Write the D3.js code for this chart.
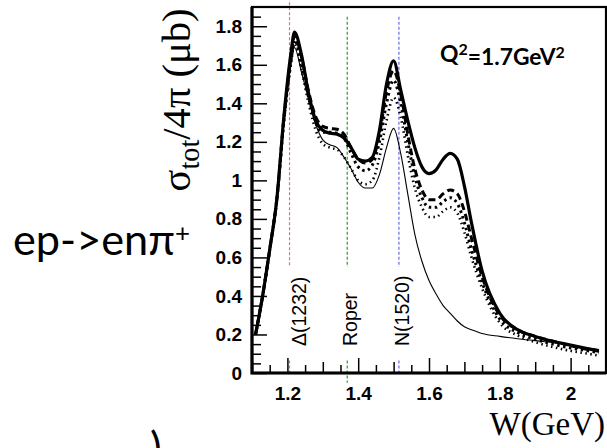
<!DOCTYPE html>
<meta charset="utf-8">
<style>
    body { margin: 0; background: #fff; }
    .axis text {
        font-family: "Liberation Sans", Arial, sans-serif;
        font-weight: bold;
        font-size: 19px;
        fill: #000;
    }
    .axis path { display: none; }
    .axis line { stroke: #000; stroke-width: 1.5px; }
    .curve { fill: none; stroke: #000; }
    .marker-label {
        font-family: "Liberation Sans", Arial, sans-serif;
        font-size: 19.5px;
    }
    .serif { font-family: "Liberation Serif", "Times New Roman", serif; }
    .calibri { font-family: Lato, "Open Sans", sans-serif; }
</style>
<svg id="f" width="607" height="448"></svg>
<script src="https://cdn.jsdelivr.net/npm/d3@7/dist/d3.min.js"></script>
<script>
    // W (GeV) grid the curves were read on
    var W = [1.11, 1.13, 1.15, 1.17, 1.19, 1.21, 1.22, 1.24, 1.26, 1.28, 1.30, 1.32, 1.34, 1.36, 1.38, 1.40,
        1.42, 1.44, 1.46, 1.48, 1.50, 1.52, 1.54, 1.56, 1.58, 1.60, 1.62, 1.64, 1.66, 1.68, 1.70, 1.72,
        1.75, 1.80, 1.85, 1.90, 1.95, 2.00, 2.05, 2.08];

    // sigma_tot/4pi (mub) for each model curve
    var solid = [0.20, 0.40, 0.64, 0.90, 1.33, 1.66, 1.77, 1.65, 1.45, 1.31, 1.26, 1.245, 1.24, 1.22, 1.17, 1.11,
        1.10, 1.12, 1.26, 1.50, 1.62, 1.47, 1.31, 1.17, 1.07, 1.035, 1.055, 1.11, 1.14, 1.11, 0.97, 0.78,
        0.53, 0.31, 0.225, 0.19, 0.165, 0.145, 0.125, 0.117];
    var dashed = [0.20, 0.40, 0.64, 0.90, 1.32, 1.64, 1.75, 1.64, 1.46, 1.33, 1.28, 1.27, 1.265, 1.24, 1.17, 1.11,
        1.09, 1.11, 1.24, 1.46, 1.57, 1.45, 1.24, 1.06, 0.95, 0.90, 0.90, 0.93, 0.95, 0.93, 0.84, 0.70,
        0.50, 0.30, 0.225, 0.19, 0.165, 0.142, 0.122, 0.113];
    var dotted = [0.20, 0.40, 0.64, 0.90, 1.31, 1.62, 1.73, 1.60, 1.43, 1.30, 1.25, 1.25, 1.245, 1.22, 1.14, 1.07,
        1.05, 1.08, 1.20, 1.40, 1.52, 1.40, 1.20, 1.02, 0.91, 0.86, 0.86, 0.89, 0.91, 0.88, 0.78, 0.64,
        0.47, 0.28, 0.21, 0.175, 0.15, 0.13, 0.115, 0.105];
    var dottedLight = [0.20, 0.40, 0.64, 0.90, 1.30, 1.60, 1.71, 1.57, 1.40, 1.26, 1.19, 1.17, 1.16, 1.12, 1.06, 1.00,
        0.98, 1.00, 1.12, 1.31, 1.43, 1.33, 1.13, 0.96, 0.86, 0.81, 0.81, 0.84, 0.86, 0.83, 0.73, 0.60,
        0.44, 0.26, 0.195, 0.16, 0.135, 0.115, 0.10, 0.09];
    var thin = [0.20, 0.40, 0.64, 0.90, 1.30, 1.60, 1.69, 1.56, 1.42, 1.29, 1.21, 1.185, 1.17, 1.12, 1.06, 0.99,
        0.96, 0.96, 1.03, 1.17, 1.27, 1.14, 0.93, 0.72, 0.58, 0.48, 0.41, 0.35, 0.31, 0.27, 0.24, 0.225,
        0.205, 0.19, 0.178, 0.168, 0.158, 0.145, 0.13, 0.12];

    var xTicks = [1.2, 1.4, 1.6, 1.8, 2];
    var yTicks = [0, 0.2, 0.4, 0.6, 0.8, 1, 1.2, 1.4, 1.6, 1.8];

    // resonance markers: line position and label position (W)
    var markerNames = ["Δ(1232)", "Roper", "N(1520)"];
    var markerW = [1.206, 1.369, 1.515];
    var markerLabelW = [1.232, 1.378, 1.524];
    var markerColors = ["#e07070", "#2e9a2e", "#6a6ae8"];

    var svg = d3.select("#f");

    var x = d3.scaleLinear().domain([1.1, 2.1]).range([252, 606]),
        y = d3.scaleLinear().domain([0, 1.9]).range([373, 7]);

    // minor ticks every 0.05
    var xMinor = d3.range(1.15, 2.1, 0.05).filter(function (v) { return Math.abs(v * 10 - Math.round(v * 10)) > 0.01; });
    var xMid = d3.range(1.1, 2.1, 0.1).filter(function (v) { return Math.abs(v * 5 - Math.round(v * 5)) > 0.01; });
    var yMinor = d3.range(0.05, 1.9, 0.05).filter(function (v) { return Math.abs(v * 5 - Math.round(v * 5)) > 0.01; });

    // resonance marker lines (drawn first, under curves)
    var mk = svg.append("g");
    markerW.forEach(function (w, i) {
        var top = i === 0 ? 1.95 : 1.85;
        var bot = i === 1 ? -0.05 : 0;
        [[top, 0.55], [0.065, bot]].forEach(function (seg) {
            mk.append("line")
                .attr("x1", x(w)).attr("x2", x(w))
                .attr("y1", y(seg[0])).attr("y2", y(seg[1]))
                .attr("stroke", markerColors[i])
                .attr("stroke-width", 1.2)
                .attr("stroke-dasharray", "3,2");
        });
        mk.append("text")
            .attr("class", "marker-label")
            .attr("transform", "translate(" + x(markerLabelW[i]) + "," + y(0.14) + ") rotate(-90)")
            .attr("dy", "0.36em")
            .text(markerNames[i]);
    });

    // axes
    svg.append("g").attr("class", "axis")
        .attr("transform", "translate(0,373)")
        .call(d3.axisBottom(x).tickValues(xMinor).tickSize(-8).tickSizeOuter(0).tickFormat(""));
    svg.append("g").attr("class", "axis")
        .attr("transform", "translate(0,373)")
        .call(d3.axisBottom(x).tickValues(xMid).tickSize(-11).tickSizeOuter(0).tickFormat(""));
    svg.append("g").attr("class", "axis")
        .attr("transform", "translate(0,373)")
        .call(d3.axisBottom(x).tickValues(xTicks).tickSize(-15).tickSizeOuter(0).tickPadding(14)
            .tickFormat(d3.format("")));

    svg.append("g").attr("class", "axis")
        .attr("transform", "translate(252,0)")
        .call(d3.axisLeft(y).tickValues(yMinor).tickSize(-9).tickSizeOuter(0).tickFormat(""));
    svg.append("g").attr("class", "axis")
        .attr("transform", "translate(252,0)")
        .call(d3.axisLeft(y).tickValues(yTicks).tickSize(-15).tickSizeOuter(0).tickPadding(10)
            .tickFormat(d3.format("")));

    // frame
    svg.append("rect")
        .attr("x", x(1.1)).attr("y", y(1.9))
        .attr("width", x(2.1) - x(1.1)).attr("height", y(0) - y(1.9))
        .attr("fill", "none").attr("stroke", "#000").attr("stroke-width", 2.2);
    svg.append("path")
        .attr("d", "M" + x(1.1) + "," + y(1.9) + "V" + y(0) + "H" + x(2.1))
        .attr("fill", "none").attr("stroke", "#000").attr("stroke-width", 3.2);

    // curves
    var line = d3.line()
        .curve(d3.curveMonotoneX)
        .x(function (d) { return x(d[0]); })
        .y(function (d) { return y(d[1]); });

    var series = [
        { v: thin, w: 1.1, dash: null },
        { v: dottedLight, w: 2.6, dash: "1.5,3.5" },
        { v: dotted, w: 3, dash: "2.5,3.5" },
        { v: dashed, w: 3, dash: "7,4" },
        { v: solid, w: 3.2, dash: null }
    ];
    series.forEach(function (s) {
        svg.append("path")
            .attr("class", "curve")
            .attr("d", line(W.map(function (w, i) { return [w, s.v[i]]; })))
            .attr("stroke-width", s.w)
            .attr("stroke-dasharray", s.dash);
    });

    // fit a text's width by scaling its font size
    function fitWidth(t, target) {
        var fs = parseFloat(t.style("font-size"));
        var wNow = t.node().getBBox().width;
        t.style("font-size", (fs * target / wNow) + "px");
    }

    // y title
    var yt = svg.append("text")
        .attr("class", "serif")
        .attr("transform", "translate(190,100) rotate(-90)")
        .attr("text-anchor", "middle")
        .style("font-size", "30px");
    yt.append("tspan").text("σ");
    yt.append("tspan").attr("dy", "0.3em").style("font-size", "0.7em").text("tot");
    yt.append("tspan").attr("dy", "-0.21em").text("/4π  (μb)");
    fitWidth(yt, 183);

    // x title
    svg.append("text")
        .attr("class", "serif")
        .attr("x", 605).attr("y", 435)
        .attr("text-anchor", "end")
        .style("font-size", "33px")
        .text("W(GeV)");

    // Q2 label
    var q = svg.append("text")
        .attr("class", "calibri")
        .attr("x", 440).attr("y", 62)
        .style("font-weight", "bold")
        .style("font-size", "22px");
    q.append("tspan").text("Q");
    q.append("tspan").attr("dy", "-0.45em").style("font-size", "0.7em").text("2");
    q.append("tspan").attr("dy", "0.45em").text("=1.7GeV");
    q.append("tspan").attr("dy", "-0.45em").style("font-size", "0.7em").text("2");
    fitWidth(q, 125);

    // reaction label
    var r = svg.append("text")
        .attr("class", "calibri")
        .attr("x", 13).attr("y", 255)
        .style("font-size", "42px");
    r.append("tspan").text("ep->enπ");
    r.append("tspan").attr("dy", "-0.5em").style("font-size", "0.6em").text("+");
    fitWidth(r, 177);

    svg.append("text")
        .attr("class", "calibri")
        .attr("x", 150).attr("y", 464)
        .style("font-size", "44px")
        .text(")");
</script>
